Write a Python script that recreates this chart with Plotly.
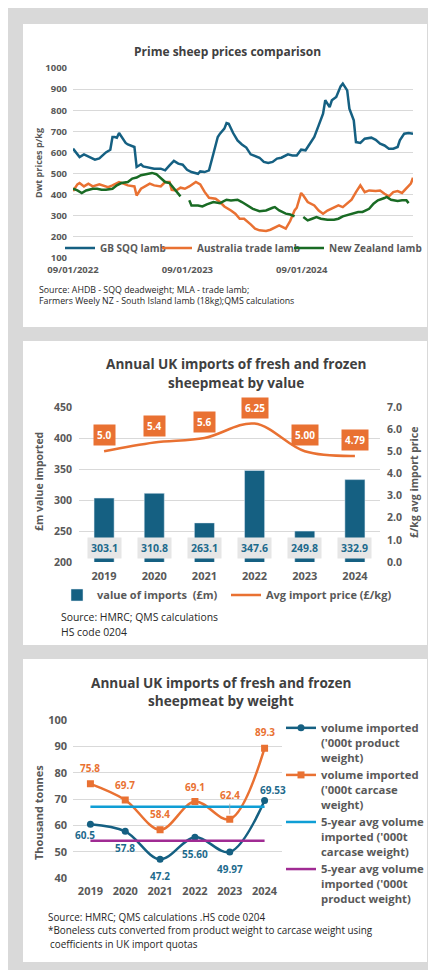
import pandas as pd
import plotly.graph_objects as go

# ---------------- DATA ----------------
# Panel 1: Prime sheep prices (p/kg dwt), weekly; x = weeks since 09/01/2022
series_start = "2022-01-09"
gb_weeks = [0, 2, 3, 5, 7, 8, 10, 12, 14, 15, 17, 18, 19, 20, 21, 22, 24, 25, 28, 29,
            31, 32, 35, 37, 40, 42, 44, 46, 48, 50, 52, 54, 57, 58, 60, 62, 64, 66, 67, 69,
            70, 71, 73, 75, 77, 79, 81, 83, 85, 87, 89, 91, 93, 95, 98, 100, 102, 104, 106, 107,
            110, 112, 114, 115, 117, 118, 120, 122, 123, 125, 126, 128, 129, 131, 133, 136, 138, 140, 142, 144,
            146, 148, 149, 151, 153, 155]
gb_price = [618, 591, 578, 591, 582, 575, 566, 572, 591, 600, 613, 673, 673, 670, 692, 676, 645, 638, 626, 531,
            544, 534, 528, 523, 523, 515, 539, 560, 547, 542, 518, 507, 499, 510, 507, 515, 594, 673, 689, 713,
            739, 736, 692, 657, 638, 623, 591, 582, 575, 555, 550, 555, 571, 575, 591, 586, 586, 613, 610, 626,
            673, 728, 784, 847, 815, 847, 863, 913, 926, 894, 807, 752, 649, 645, 665, 670, 660, 641, 633, 618,
            618, 626, 657, 689, 692, 689]

aus_weeks = [0, 2, 3, 5, 7, 9, 12, 14, 16, 18, 21, 23, 25, 28, 29, 31, 33, 35, 37, 40,
             42, 44, 45, 47, 49, 51, 53, 56, 58, 60, 62, 65, 67, 69, 72, 74, 76, 78, 81, 83,
             85, 88, 90, 92, 94, 97, 99, 101, 102, 104, 105, 107, 110, 112, 114, 116, 119, 121, 123, 125,
             127, 129, 131, 133, 135, 138, 140, 142, 144, 146, 148, 150, 152, 154, 155]
aus_price = [417, 449, 455, 439, 452, 439, 449, 444, 436, 444, 460, 452, 444, 439, 396, 428, 439, 452, 444, 439,
             460, 460, 423, 420, 433, 428, 439, 460, 449, 413, 385, 381, 365, 344, 325, 310, 286, 286, 259, 239,
             231, 228, 234, 243, 255, 239, 275, 325, 338, 408, 396, 365, 349, 325, 310, 325, 341, 349, 341, 357,
             376, 412, 444, 412, 420, 417, 420, 404, 392, 412, 417, 408, 428, 452, 480]

nz_weeks = [0, 2, 4, 6, 9, 11, 13, 15, 18, 20, 22, 25, 27, 29, 31, 34, 36, 38, 40, 42,
            44, 46, 48, 49, 50,
            53, 54, 57, 59, 61, 64, 67, 70, 72, 75, 77, 80, 82, 85, 88, 91, 92, 94, 97, 99, 101, 102,
            105, 107, 109, 111, 113, 116, 119, 121, 123, 126, 128, 130, 132, 135, 137, 139, 142, 143,
            145, 148, 150, 152, 153]
nz_price = [428, 420, 408, 420, 428, 428, 423, 423, 428, 444, 455, 460, 476, 481, 492, 500, 503, 497, 476, 460,
            455, 428, 404, 392, None,
            373, 349, 349, 344, 354, 365, 360, 376, 373, 376, 365, 344, 333, 322, 325, 338, 341, 325, 310, 306, 297, None,
            294, 278, 286, 294, 286, 281, 281, 286, 297, 306, 314, 318, 318, 333, 357, 373, 384, 389,
            376, 370, 373, 373, 360]

# Panel 2: Annual UK imports by value
years = ["2019", "2020", "2021", "2022", "2023", "2024"]
import_value = [303.1, 310.8, 263.1, 347.6, 249.8, 332.9]
import_value_labels = ["303.1", "310.8", "263.1", "347.6", "249.8", "332.9"]
avg_price = [5.0, 5.4, 5.6, 6.25, 5.00, 4.79]
avg_price_labels = ["5.0", "5.4", "5.6", "6.25", "5.00", "4.79"]

# Panel 3: Annual UK imports by weight ('000 t)
product_weight = [60.5, 57.8, 47.2, 55.60, 49.97, 69.53]
product_labels = ["60.5", "57.8", "47.2", "55.60", "49.97", "69.53"]
carcase_weight = [75.8, 69.7, 58.4, 69.1, 62.4, 89.3]
carcase_labels = ["75.8", "69.7", "58.4", "69.1", "62.4", "89.3"]
carcase_avg = [67.08, 67.08, 67.08, 67.08, 67.08, 67.08]
product_avg = [54.21, 54.21, 54.21, 54.21, 54.21, 54.21]

# ---------------- STYLE ----------------
FONT = "Open Sans"
TICK = "#595959"
TITLE = "#404040"
SRC = "#262626"
BLUE = "#156082"
LABEL_BLUE = "#1d6a8c"
ORANGE = "#E97132"
GREEN = "#196B24"
LBLUE = "#0F9ED5"
PURPLE = "#A02B93"
GRID = "#d9d9d9"
PAGE = "#d9d9d9"
W, H = 436, 970
OFF = 8  # page offset of the figure (body margin)


def fx(p):
    return (p - OFF) / W


def fy(p):
    return 1 - (p - OFF) / H


def bold(size, color=TICK):
    return dict(family=FONT, size=size, color=color, weight="bold")


fig = go.Figure()

# ---------- Panel 1 ----------
start = pd.Timestamp(series_start)


def to_dates(weeks):
    return [start + pd.Timedelta(weeks=w) for w in weeks]


gb_dates = to_dates(gb_weeks)
fig.add_trace(go.Scatter(x=gb_dates, y=gb_price, mode="lines", name="GB SQQ lamb",
                         line=dict(color=BLUE, width=2.5), xaxis="x", yaxis="y", legend="legend"))
fig.add_trace(go.Scatter(x=to_dates(aus_weeks), y=aus_price, mode="lines", name="Australia trade lamb",
                         line=dict(color=ORANGE, width=2.5), xaxis="x", yaxis="y", legend="legend2"))
fig.add_trace(go.Scatter(x=to_dates(nz_weeks), y=nz_price, mode="lines", name="New Zealand lamb",
                         line=dict(color=GREEN, width=2.5), xaxis="x", yaxis="y", legend="legend3"))

# ---------- Panel 2 ----------
fig.add_trace(go.Bar(x=years, y=import_value, name="value of imports  (£m)", marker_color=BLUE,
                     xaxis="x2", yaxis="y2", legend="legend4"))
fig.add_trace(go.Scatter(x=years, y=avg_price, mode="lines", name="Avg import price (£/kg)",
                         line=dict(color=ORANGE, width=2.5, shape="spline", smoothing=1.0),
                         xaxis="x2", yaxis="y3", legend="legend5"))

# ---------- Panel 3 ----------
fig.add_trace(go.Scatter(x=years, y=product_weight, mode="lines+markers",
                         name="volume imported<br>('000t product<br>weight)",
                         line=dict(color=BLUE, width=2.5, shape="spline", smoothing=1.0),
                         marker=dict(symbol="circle", size=7, color=BLUE),
                         xaxis="x3", yaxis="y4", legend="legend6"))
fig.add_trace(go.Scatter(x=years, y=carcase_weight, mode="lines+markers",
                         name="volume imported<br>('000t carcase<br>weight)",
                         line=dict(color=ORANGE, width=2.5, shape="spline", smoothing=1.0),
                         marker=dict(symbol="square", size=7, color=ORANGE),
                         xaxis="x3", yaxis="y4", legend="legend6"))
fig.add_trace(go.Scatter(x=years, y=carcase_avg, mode="lines",
                         name="5-year avg volume<br>imported ('000t<br>carcase weight)",
                         line=dict(color=LBLUE, width=2.5),
                         xaxis="x3", yaxis="y4", legend="legend6"))
fig.add_trace(go.Scatter(x=years, y=product_avg, mode="lines",
                         name="5-year avg volume<br>imported ('000t<br>product weight)",
                         line=dict(color=PURPLE, width=2.5),
                         xaxis="x3", yaxis="y4", legend="legend6"))

# ---------- White cards ----------
shapes = []
for top, bottom in [(24, 327), (341, 645), (659, 962)]:
    shapes.append(dict(type="rect", xref="paper", yref="paper", x0=fx(23), x1=fx(427),
                       y0=fy(bottom), y1=fy(top), fillcolor="white", line_width=0, layer="below"))

# ---------- Annotations ----------
ann = []


def text_at(x, y, text, font, xanchor="center", angle=0):
    ann.append(dict(x=fx(x), y=fy(y), xref="paper", yref="paper", text=text, showarrow=False,
                    xanchor=xanchor, yanchor="middle", font=font, textangle=angle))


# titles
text_at(227, 52, "Prime sheep prices comparison", bold(12, TITLE))
text_at(236, 363, "Annual UK imports of fresh and frozen", bold(13.6, TITLE))
text_at(236, 383, "sheepmeat by value", bold(13.6, TITLE))
text_at(221, 682, "Annual UK imports of fresh and frozen", bold(13.6, TITLE))
text_at(221, 700, "sheepmeat by weight", bold(13.6, TITLE))

# axis titles
text_at(38, 163, "Dwt prices p/kg", bold(9, TICK), angle=-90)
text_at(39, 482, "£m value imported", bold(10.5, TICK), angle=-90)
text_at(414, 483, "£/kg avg import price", bold(10.5, TICK), angle=-90)
text_at(38, 813, "Thousand tonnes", bold(11, TICK), angle=-90)

# sources
srcfont1 = dict(family=FONT, size=8.8, color=SRC)
text_at(37, 290, "Source: AHDB - SQQ deadweight; MLA - trade lamb;", srcfont1, xanchor="left")
text_at(37, 301, "Farmers Weely NZ - South Island lamb (18kg);QMS calculations", srcfont1, xanchor="left")
srcfont2 = dict(family=FONT, size=10.4, color=SRC)
text_at(59, 617, "Source: HMRC; QMS calculations", srcfont2, xanchor="left")
text_at(59, 632, "HS code 0204", srcfont2, xanchor="left")
srcfont3 = dict(family=FONT, size=9.9, color=SRC)
text_at(46, 917, "Source: HMRC; QMS calculations .HS code 0204", srcfont3, xanchor="left")
text_at(46, 930, "*Boneless cuts converted from product weight to carcase weight using", srcfont3, xanchor="left")
text_at(48, 944, "coefficients in UK import quotas", srcfont3, xanchor="left")

# panel 2 data labels (x given as category index)
for i, lab in enumerate(import_value_labels):
    ann.append(dict(x=i, y=0, xref="x2", yref="y2 domain", text=lab, showarrow=False,
                    yanchor="bottom", yshift=3, bgcolor="#e6e6e6", borderpad=3,
                    font=bold(10.5, LABEL_BLUE)))
for i, (v, lab) in enumerate(zip(avg_price, avg_price_labels)):
    ann.append(dict(x=i, y=v, xref="x2", yref="y3", text=lab, showarrow=False,
                    yanchor="middle", yshift=16, bgcolor=ORANGE, borderpad=3,
                    font=bold(10, "white")))

# panel 3 data labels
p_xshift = [-5, 0, 0, 0, 0, 8]
p_yshift = [-11, -17, -17, -17, -17, 10]
for i, (v, lab, dx, dy) in enumerate(zip(product_weight, product_labels, p_xshift, p_yshift)):
    ann.append(dict(x=i, y=v, xref="x3", yref="y4", text=lab, showarrow=False,
                    xshift=dx, yshift=dy, font=bold(10, LABEL_BLUE)))
c_yshift = [16, 15, 16, 15, 24, 16]
for i, (v, lab, dy) in enumerate(zip(carcase_weight, carcase_labels, c_yshift)):
    if dy > 20:
        ann.append(dict(x=i, y=v, xref="x3", yref="y4", text=lab, showarrow=True,
                        arrowhead=0, arrowwidth=0.8, arrowcolor="#a6a6a6", ax=0, ay=-dy,
                        standoff=5, font=bold(10, ORANGE)))
    else:
        ann.append(dict(x=i, y=v, xref="x3", yref="y4", text=lab, showarrow=False,
                        yshift=dy, font=bold(10, ORANGE)))

# ---------- Axes ----------
common_y = dict(showgrid=True, gridcolor=GRID, gridwidth=1, zeroline=False, showline=False,
                ticks="", fixedrange=True, automargin=False)
common_x = dict(showgrid=False, zeroline=False, showline=False, ticks="", fixedrange=True,
                automargin=False)


def legend_at(x, y, size, orientation="h", valign="middle", yanchor="middle"):
    return dict(x=fx(x), y=fy(y), xanchor="left", yanchor=yanchor, orientation=orientation,
                bgcolor="rgba(0,0,0,0)", borderwidth=0, valign=valign,
                font=bold(size, TICK), itemclick=False, itemdoubleclick=False)


fig.update_layout(
    width=W, height=H, margin=dict(l=0, r=0, t=0, b=0, autoexpand=False),
    paper_bgcolor=PAGE, plot_bgcolor="white", bargap=0.6,
    font=dict(family=FONT, color=TICK),
    shapes=shapes, annotations=ann,
    xaxis=dict(common_x, domain=[fx(73), fx(413)], anchor="y", type="date",
               range=[gb_dates[0], gb_dates[-1]], tick0=series_start, dtick="M12",
               tickformat="%d/%m/%Y", tickfont=bold(9.5), ticklabelstandoff=4),
    yaxis=dict(common_y, domain=[fy(258), fy(68)], anchor="x", range=[100, 1000], dtick=100,
               tickfont=bold(9.5), ticklabelstandoff=5),
    xaxis2=dict(common_x, domain=[fx(79), fx(380)], anchor="y2", type="category",
                range=[-0.5, 5.5], tickfont=bold(11), ticklabelstandoff=6),
    yaxis2=dict(common_y, domain=[fy(562), fy(407)], anchor="x2", range=[200, 450], dtick=50,
                tickfont=bold(10.5), ticklabelstandoff=6),
    yaxis3=dict(showgrid=False, zeroline=False, showline=False, ticks="", fixedrange=True,
                automargin=False, overlaying="y2", side="right", anchor="x2", range=[0, 7], dtick=1,
                tickformat=".1f", tickfont=bold(10.5), ticklabelstandoff=6),
    xaxis3=dict(common_x, domain=[fx(73), fx(282)], anchor="y4", type="category",
                range=[-0.5, 5.5], tickfont=bold(11), ticklabelstandoff=5),
    yaxis4=dict(common_y, domain=[fy(878.3), fy(720)], anchor="x3", range=[40, 100], dtick=10,
                tickfont=bold(11), ticklabelstandoff=5),
    legend=legend_at(60, 248, 10),
    legend2=legend_at(157, 248, 10),
    legend3=legend_at(289, 248, 10),
    legend4=legend_at(57, 595, 11),
    legend5=legend_at(226, 595, 11),
    legend6=dict(legend_at(281, 714, 11.3, orientation="v", valign="top", yanchor="top"),
                 tracegroupgap=0),
    showlegend=True,
)

fig.write_html("out.html")
